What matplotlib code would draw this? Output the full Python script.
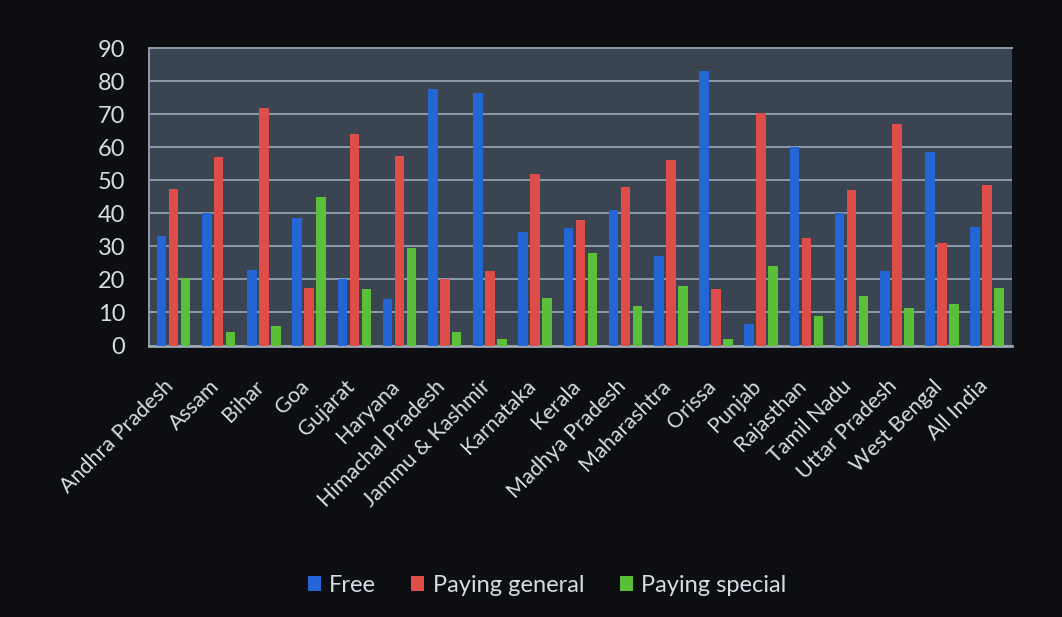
import numpy as np
import matplotlib
matplotlib.use('Agg')
import matplotlib.pyplot as plt
from matplotlib.transforms import ScaledTranslation

states = ['Andhra Pradesh', 'Assam', 'Bihar', 'Goa', 'Gujarat', 'Haryana',
          'Himachal Pradesh', 'Jammu & Kashmir', 'Karnataka', 'Kerala',
          'Madhya Pradesh', 'Maharashtra', 'Orissa', 'Punjab', 'Rajasthan',
          'Tamil Nadu', 'Uttar Pradesh', 'West Bengal', 'All India']
free = [33, 40, 23, 38.5, 20, 14, 77.5, 76.5, 34.5, 35.5, 41, 27, 83, 6.5,
        60, 40, 22.5, 58.5, 36]
paying_general = [47.5, 57, 72, 17.5, 64, 57.5, 20, 22.5, 52, 38, 48, 56,
                  17, 70.5, 32.5, 47, 67, 31, 48.5]
paying_special = [20.5, 4, 6, 45, 17, 29.5, 4, 2, 14.5, 28, 12, 18, 2, 24,
                  9, 15, 11.5, 12.5, 17.5]
yticks = list(range(0, 100, 10))

plt.rcParams['font.family'] = ['Lato', 'DejaVu Sans']

bg = '#0c0e12'
wall = '#3b4552'
grid_c = '#8d9cab'
text_c = '#d6dde4'
colors = ['#2566d6', '#de4d47', '#5cbf3a']

fig = plt.figure(figsize=(10.62, 6.17), dpi=100, facecolor=bg)
ax = fig.add_axes([0.140, 0.440, 0.813, 0.482])
ax.set_facecolor(wall)

x = np.arange(len(states))
w = 0.21
off = 0.265
series = [('Free', free), ('Paying general', paying_general),
          ('Paying special', paying_special)]
for i, (name, vals) in enumerate(series):
    ax.bar(x + (i - 1) * off, vals, width=w, color=colors[i], label=name,
           zorder=3, linewidth=0)

ax.set_xlim(-0.55, len(states) - 0.45)
ax.set_ylim(0, 90)
ax.set_yticks(yticks)
ax.yaxis.grid(True, color=grid_c, linewidth=1.4, zorder=1)
ax.set_axisbelow(True)

for side in ['top', 'left']:
    ax.spines[side].set_color(grid_c)
    ax.spines[side].set_linewidth(1.4)
ax.spines['right'].set_visible(False)
ax.spines['bottom'].set_color('#9aa7b4')
ax.spines['bottom'].set_linewidth(2)

ax.tick_params(axis='y', length=0, pad=17, labelsize=17, labelcolor=text_c)
ax.tick_params(axis='x', length=0, pad=22, labelsize=15.5, labelcolor=text_c)
ax.set_xticks(x)
ax.set_xticklabels(states, rotation=45, ha='right', rotation_mode='anchor')
# nudge the slanted state names a little to the left
shift = ScaledTranslation(-10 / 100, 0, fig.dpi_scale_trans)
for lab in ax.get_xticklabels():
    lab.set_transform(lab.get_transform() + shift)

leg = fig.legend(loc='lower center', bbox_to_anchor=(0.515, 0.0), ncol=3,
                 frameon=False, fontsize=17, labelcolor=text_c,
                 handlelength=0.55, handleheight=0.55, handletextpad=0.35,
                 columnspacing=1.5)

fig.savefig('out.png', dpi=100, facecolor=bg)
